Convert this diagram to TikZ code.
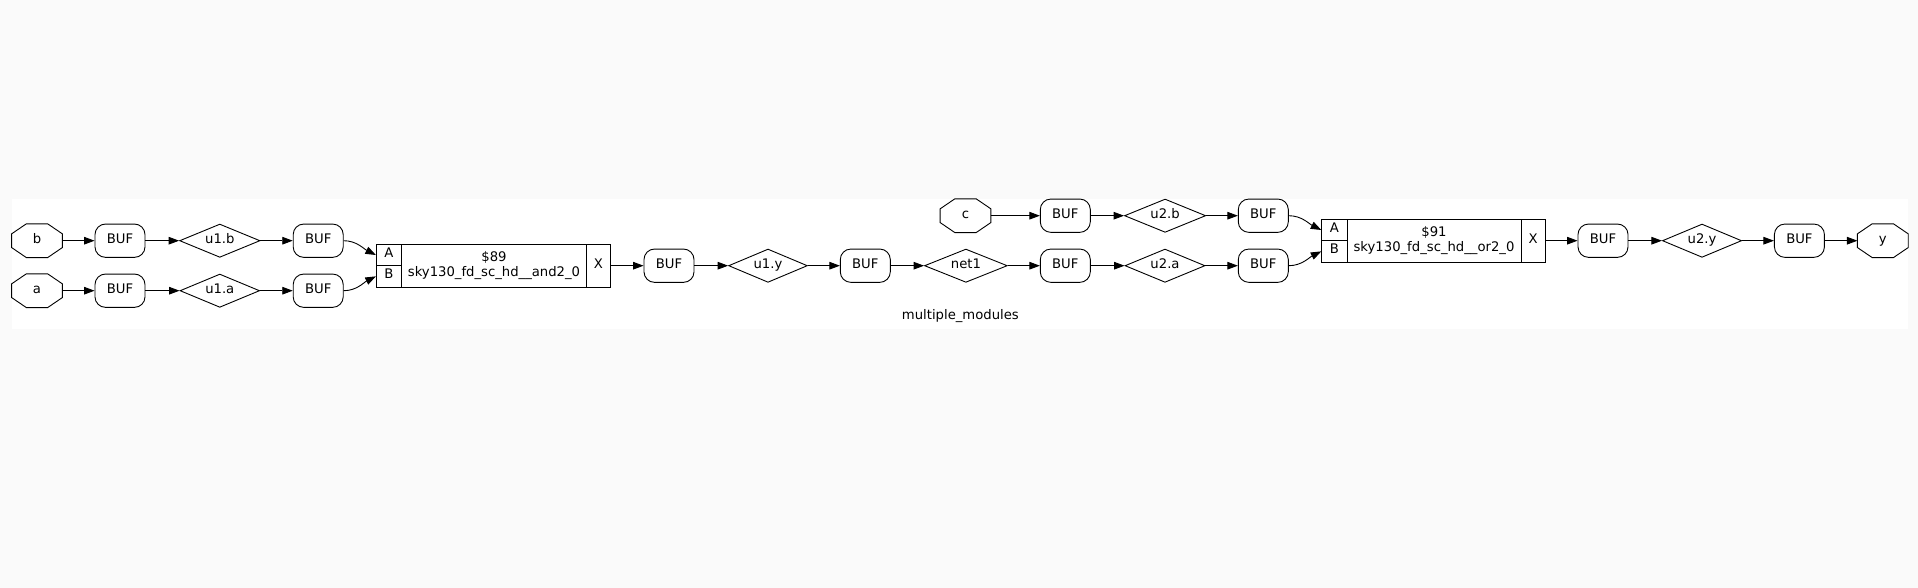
\documentclass[tikz,border=0pt]{standalone}
\usepackage{fontspec}
\setmainfont{DejaVu Sans}
\usetikzlibrary{shapes.geometric,arrows.meta}
\definecolor{pagebg}{HTML}{FAFAFA}
\newcommand{\zw}[1]{\makebox[0pt][c]{#1}}
\tikzset{
  every node/.style={font=\fontsize{13.2}{15}\selectfont, inner sep=0pt, text height=9pt, text depth=3.8pt},
  base/.style={draw=black, line width=0.9pt},
  bufbox/.style={base, rectangle, rounded corners=10.5pt, minimum width=50pt, minimum height=33.3pt},
  wirenode/.style={base, diamond, aspect=2.4, minimum height=33.3pt},
  portnode/.style={rectangle, minimum width=50.4pt, minimum height=33.3pt},
  cellpart/.style={base, rectangle, minimum height=21.35pt},
  conn/.style={draw=black, line width=0.9pt, -{Triangle[length=10.5pt,width=7.6pt]}},
}
\begin{document}
\begin{tikzpicture}[x=1pt,y=-1pt]
\useasboundingbox (0,0) rectangle (1918,588);
\fill[pagebg] (0,0) rectangle (1918,588);
\fill[white] (12,199.3) rectangle (1908,328.7);

% first row pair
\node[portnode] (b) at (37,240.7) {b};
\node[portnode] (a) at (37,290.7) {a};
\node[bufbox] (b1) at (120,240.7) {BUF};
\node[bufbox] (b2) at (120,290.7) {BUF};
\node[wirenode, minimum width=80.4pt] (u1b) at (219.8,240.7) {\zw{u1.b}};
\node[wirenode, minimum width=79.6pt] (u1a) at (219.8,290.7) {\zw{u1.a}};
\node[bufbox] (b3) at (318.2,240.7) {BUF};
\node[bufbox] (b4) at (318.2,290.7) {BUF};

% AND cell
\node[cellpart, minimum width=25.3pt] (c1A) at (389,255) {A};
\node[cellpart, minimum width=25.3pt] (c1B) at (389,276.35) {B};
\node[base, rectangle, minimum width=184.9pt, minimum height=42.7pt, text height=, text depth=, align=center] (c1M) at (494,265.7) {\$89\\[0.5pt]sky130\_fd\_sc\_hd\_\_and2\_0};
\node[base, rectangle, minimum width=24.1pt, minimum height=42.7pt] (c1X) at (598.5,265.7) {X};

% middle chain
\node[bufbox] (b5) at (669,265.7) {BUF};
\node[wirenode, minimum width=78.8pt] (u1y) at (768,265.7) {\zw{u1.y}};
\node[bufbox] (b6) at (865.3,265.7) {BUF};
\node[wirenode, minimum width=82.8pt] (net1) at (965.9,265.7) {\zw{net1}};
\node[bufbox] (b7) at (1065.3,265.7) {BUF};
\node[wirenode, minimum width=80pt] (u2a) at (1165,265.7) {\zw{u2.a}};
\node[bufbox] (b8) at (1263.3,265.7) {BUF};

% upper chain
\node[portnode] (c) at (965.5,215.7) {c};
\node[bufbox] (b9) at (1065.3,215.7) {BUF};
\node[wirenode, minimum width=81.2pt] (u2b) at (1165.1,215.7) {\zw{u2.b}};
\node[bufbox] (b10) at (1263.3,215.7) {BUF};

% OR cell
\node[cellpart, minimum width=25.3pt] (c2A) at (1334.4,230) {A};
\node[cellpart, minimum width=25.3pt] (c2B) at (1334.4,251.35) {B};
\node[base, rectangle, minimum width=173.9pt, minimum height=42.7pt, text height=, text depth=, align=center] (c2M) at (1434,240.7) {\$91\\[0.5pt]sky130\_fd\_sc\_hd\_\_or2\_0};
\node[base, rectangle, minimum width=24.1pt, minimum height=42.7pt] (c2X) at (1533,240.7) {X};

% tail
\node[bufbox] (b11) at (1603,240.7) {BUF};
\node[wirenode, minimum width=79.2pt] (u2y) at (1702,240.7) {\zw{u2.y}};
\node[bufbox] (b12) at (1799.4,240.7) {BUF};
\node[portnode] (y) at (1882.8,240.7) {y};

\node (title) at (960.4,317) {multiple\_modules};

% octagon outlines of the port nodes
\foreach \n in {a,b,c,y}{
  \draw[base] ([xshift=14.7pt]\n.north west) -- ([xshift=-14.7pt]\n.north east)
    -- ([yshift=-10pt]\n.north east) -- ([yshift=10pt]\n.south east)
    -- ([xshift=-14.7pt]\n.south east) -- ([xshift=14.7pt]\n.south west)
    -- ([yshift=10pt]\n.south west) -- ([yshift=-10pt]\n.north west) -- cycle;
}

% connectors
\draw[conn] (b) -- (b1);
\draw[conn] (b1) -- (u1b);
\draw[conn] (u1b) -- (b3);
\draw[conn] (a) -- (b2);
\draw[conn] (b2) -- (u1a);
\draw[conn] (u1a) -- (b4);
\draw[conn] (b3.east) .. controls +(13,0) and +(-12,-6) .. (c1A.west);
\draw[conn] (b4.east) .. controls +(13,0) and +(-12,6) .. (c1B.west);
\draw[conn] (c1X) -- (b5);
\draw[conn] (b5) -- (u1y);
\draw[conn] (u1y) -- (b6);
\draw[conn] (b6) -- (net1);
\draw[conn] (net1) -- (b7);
\draw[conn] (b7) -- (u2a);
\draw[conn] (u2a) -- (b8);
\draw[conn] (c) -- (b9);
\draw[conn] (b9) -- (u2b);
\draw[conn] (u2b) -- (b10);
\draw[conn] (b10.east) .. controls +(13,0) and +(-12,-6) .. (c2A.west);
\draw[conn] (b8.east) .. controls +(13,0) and +(-12,6) .. (c2B.west);
\draw[conn] (c2X) -- (b11);
\draw[conn] (b11) -- (u2y);
\draw[conn] (u2y) -- (b12);
\draw[conn] (b12) -- (y);
\end{tikzpicture}
\end{document}
